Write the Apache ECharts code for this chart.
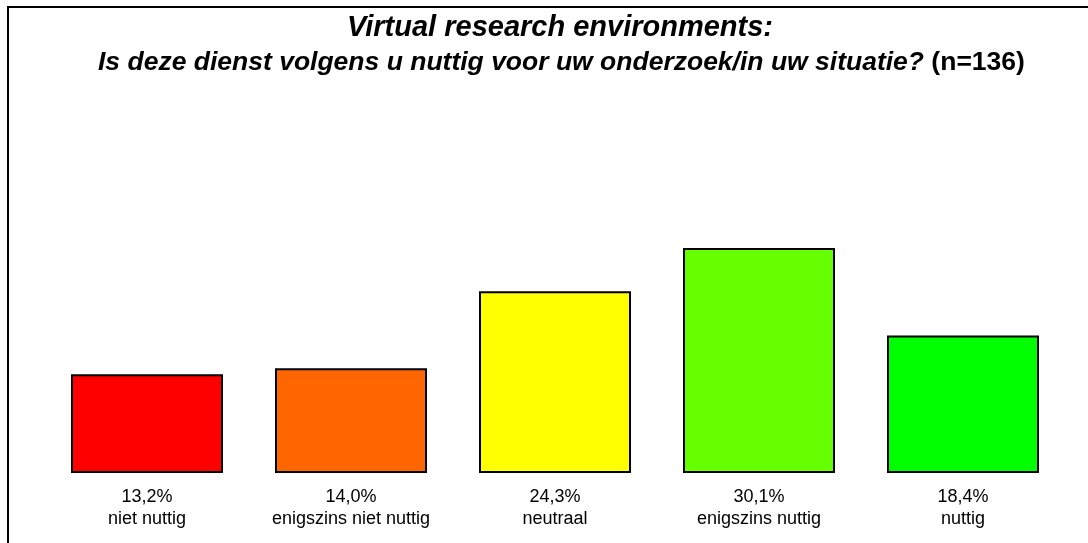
<!DOCTYPE html>
<html>
<head>
<meta charset="utf-8">
<script src="https://cdn.jsdelivr.net/npm/echarts@6/dist/echarts.min.js"></script>
<style>
  html,body{margin:0;padding:0;background:#fff;}
  #chart{width:1088px;height:543px;}
</style>
</head>
<body>
<div id="chart"></div>
<script>
// categorieen en percentages
var categories = ['niet nuttig', 'enigszins niet nuttig', 'neutraal', 'enigszins nuttig', 'nuttig'];
var values = [13.2, 14.0, 24.3, 30.1, 18.4];
var barColors = ['#ff0000', '#ff6600', '#ffff00', '#66ff00', '#00ff00'];

var fontName = '"Liberation Sans", Arial, sans-serif';

var chart = echarts.init(document.getElementById('chart'));

var option = {
  backgroundColor: '#fff',
  animation: false,
  title: [
    {
      text: 'Virtual research environments:',
      left: 342, top: 8,
      textStyle: {fontFamily: fontName, fontSize: 29, fontWeight: 'bold', fontStyle: 'italic', color: '#000'}
    },
    {
      text: '{a|Is deze dienst volgens u nuttig voor uw onderzoek/in uw situatie?} {b|(n=136)}',
      left: 93, top: 44,
      textStyle: {
        fontFamily: fontName, fontSize: 26.5, color: '#000',
        rich: {
          a: {fontFamily: fontName, fontSize: 26.5, fontWeight: 'bold', fontStyle: 'italic', color: '#000'},
          b: {fontFamily: fontName, fontSize: 26.5, fontWeight: 'bold', color: '#000'}
        }
      }
    }
  ],
  graphic: [
    {
      type: 'polyline',
      shape: {points: [[8, 543], [8, 7], [1088, 7]]},
      style: {stroke: '#000', lineWidth: 2, fill: null},
      silent: true
    }
  ],
  grid: {left: 45, right: 23, top: 174, bottom: 70},
  xAxis: {
    type: 'category',
    data: categories,
    axisLine: {show: false},
    axisTick: {show: false},
    axisLabel: {
      interval: 0,
      margin: 13,
      fontFamily: fontName,
      fontSize: 18,
      lineHeight: 22,
      color: '#000',
      formatter: function (name, i) {
        return values[i].toFixed(1).replace('.', ',') + '%\n' + name;
      }
    }
  },
  yAxis: {
    type: 'value',
    min: 0,
    max: 40,
    show: false
  },
  series: [
    {
      type: 'bar',
      data: values.map(function (v, i) {
        return {value: v, itemStyle: {color: barColors[i]}};
      }),
      barWidth: 152,
      itemStyle: {borderColor: '#000', borderWidth: 2},
      label: {show: false}
    }
  ]
};

chart.setOption(option);
</script>
</body>
</html>
